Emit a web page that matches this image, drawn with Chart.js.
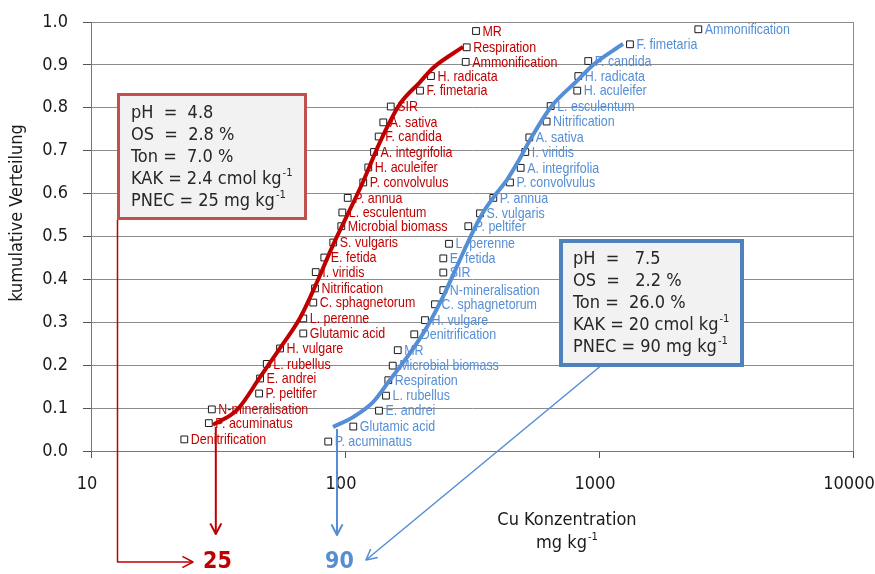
<!DOCTYPE html>
<html>
<head>
<meta charset="utf-8">
<script src="https://cdn.jsdelivr.net/npm/chart.js@4.4.1/dist/chart.umd.min.js"></script>
<style>
  html, body { margin: 0; padding: 0; background: #fff; }
  #wrap { width: 875px; height: 574px; }
</style>
</head>
<body>
<div id="wrap"><canvas id="cuChart" width="875" height="574"></canvas></div>
<script>
const xTicks = [10, 100, 1000, 10000];

// Boden 1 (pH 4.8) - red
const redNames = ['Denitrification', 'P. acuminatus', 'N-mineralisation', 'P. peltifer', 'E. andrei',
    'L. rubellus', 'H. vulgare', 'Glutamic acid', 'L. perenne', 'C. sphagnetorum', 'Nitrification',
    'I. viridis', 'E. fetida', 'S. vulgaris', 'Microbial biomass', 'L. esculentum', 'P. annua',
    'P. convolvulus', 'H. aculeifer', 'A. integrifolia', 'F. candida', 'A. sativa', 'SIR',
    'F. fimetaria', 'H. radicata', 'Ammonification', 'Respiration', 'MR'];
const redX = [23.3, 29.1, 29.9, 45.9, 46.3, 49.2, 55.5, 68.5, 68.5, 75.0, 76.2, 76.7, 82.9, 89.9,
    96.7, 97.6, 102.5, 118.0, 123.5, 130.1, 135.7, 141.5, 151.4, 197.4, 218.0, 298.7, 301.4, 327.9];
const redY = [0.027, 0.065, 0.097, 0.134, 0.169, 0.203, 0.239, 0.274, 0.309, 0.346, 0.379, 0.417,
    0.451, 0.486, 0.524, 0.556, 0.590, 0.626, 0.661, 0.697, 0.733, 0.766, 0.803, 0.840, 0.874,
    0.907, 0.941, 0.979];

// Boden 2 (pH 7.5) - blue
const blueNames = ['P. acuminatus', 'Glutamic acid', 'E. andrei', 'L. rubellus', 'Respiration',
    'Microbial biomass', 'MR', 'Denitrification', 'H. vulgare', 'C. sphagnetorum', 'N-mineralisation',
    'SIR', 'E. fetida', 'L. perenne', 'P. peltifer', 'S. vulgaris', 'P. annua', 'P. convolvulus',
    'A. integrifolia', 'I. viridis', 'A. sativa', 'Nitrification', 'L. esculentum', 'H. aculeifer',
    'H. radicata', 'F. candida', 'F. fimetaria', 'Ammonification'];
const blueX = [85.9, 107.8, 136.1, 145.0, 148.1, 154.1, 161.3, 187.4, 206.5, 226.1, 243.8, 243.8,
    243.8, 256.7, 305.8, 340.0, 383.7, 446.3, 491.6, 512.6, 531.7, 622.0, 645.0, 821.0, 829.0,
    907.0, 1324.0, 2460.0];
const blueY = [0.022, 0.057, 0.094, 0.129, 0.165, 0.199, 0.235, 0.272, 0.305, 0.342, 0.375, 0.416,
    0.449, 0.483, 0.524, 0.554, 0.590, 0.626, 0.660, 0.697, 0.731, 0.768, 0.804, 0.840, 0.874,
    0.909, 0.948, 0.983];

// fitted distributions
const redFitX = [30.2, 37.6, 46.3, 55.5, 66.5, 77.6, 89.7, 97.3, 117.7, 137.3, 164.6, 197.4, 222.0, 291.5];
const redFitY = [0.061, 0.096, 0.172, 0.240, 0.310, 0.394, 0.480, 0.524, 0.627, 0.720, 0.809, 0.860, 0.893, 0.942];
const blueFitX = [89.7, 107.5, 128.9, 150.4, 180.3, 210.3, 243.1, 278.6, 310.5, 346.2, 393.0, 434.3, 479.9, 535.0, 647.1, 826.8, 947.1, 1243.0];
const blueFitY = [0.056, 0.079, 0.114, 0.166, 0.228, 0.289, 0.359, 0.436, 0.497, 0.552, 0.599, 0.632, 0.674, 0.725, 0.802, 0.865, 0.900, 0.949];

// where the PNEC arrows leave the curves
const dropX = [31, 93];

const RED = '#C00000';
const BLUE = '#558ED5';

function hasFont(name) {
    const c = document.createElement('canvas').getContext('2d');
    const probe = 'abcdefghij KLMNOP 0123';
    c.font = '40px monospace';
    const base = c.measureText(probe).width;
    c.font = `40px "${name}", monospace`;
    return c.measureText(probe).width !== base;
}
const condensed = hasFont('DejaVu Sans Condensed');
const FAMILY = condensed ? '"DejaVu Sans Condensed"' : '"DejaVu Sans"';
const SIZE = condensed ? 18 : 16.3;
const LABEL_FONT = '15px "Liberation Sans", Arial';
const LABEL_SQUEEZE = 0.83;

function toPoints(xs, ys) {
    return xs.map((x, i) => ({ x: x, y: ys[i] }));
}

function textSup(ctx, str, sup, x, y) {
    ctx.fillText(str, x, y);
    const w = ctx.measureText(str).width;
    const f = ctx.font;
    ctx.font = `${SIZE * 0.62}px ${FAMILY}`;
    ctx.fillText(sup, x + w + 1, y - SIZE * 0.33);
    ctx.font = f;
}

function supWidth(ctx, str, sup) {
    const f = ctx.font;
    const w = ctx.measureText(str).width;
    ctx.font = `${SIZE * 0.62}px ${FAMILY}`;
    const w2 = ctx.measureText(sup).width;
    ctx.font = f;
    return w + 1 + w2;
}

function arrowLine(ctx, pts, color, width) {
    ctx.save();
    ctx.strokeStyle = color;
    ctx.lineWidth = width;
    ctx.lineJoin = 'round';
    ctx.beginPath();
    ctx.moveTo(pts[0][0], pts[0][1]);
    for (let i = 1; i < pts.length; i++) ctx.lineTo(pts[i][0], pts[i][1]);
    ctx.stroke();
    const [x1, y1] = pts[pts.length - 2];
    const [x2, y2] = pts[pts.length - 1];
    const a = Math.atan2(y2 - y1, x2 - x1);
    const len = 12, spread = 0.48;
    ctx.beginPath();
    ctx.moveTo(x2 - len * Math.cos(a - spread), y2 - len * Math.sin(a - spread));
    ctx.lineTo(x2, y2);
    ctx.lineTo(x2 - len * Math.cos(a + spread), y2 - len * Math.sin(a + spread));
    ctx.stroke();
    ctx.restore();
}

function infoBox(ctx, x, y, w, h, border, bw, lines, tx, ty) {
    ctx.save();
    ctx.fillStyle = '#F2F2F2';
    ctx.fillRect(x, y, w, h);
    ctx.strokeStyle = border;
    ctx.lineWidth = bw;
    ctx.strokeRect(x + bw / 2, y + bw / 2, w - bw, h - bw);
    ctx.fillStyle = '#262626';
    ctx.font = `${SIZE}px ${FAMILY}`;
    ctx.textBaseline = 'middle';
    ctx.textAlign = 'left';
    lines.forEach((l, i) => {
        if (l.sup) textSup(ctx, l.text, l.sup, tx, ty + i * 22);
        else ctx.fillText(l.text, tx, ty + i * 22);
    });
    ctx.restore();
}

// labels next to the squares, drawn before the fitted curves go on top
const pointLabels = {
    id: 'pointLabels',
    afterDatasetDraw(chart, args) {
        const ds = chart.data.datasets[args.index];
        if (!ds.names) return;
        const ctx = chart.ctx;
        ctx.save();
        ctx.font = LABEL_FONT;
        ctx.fillStyle = ds.labelColor;
        ctx.textBaseline = 'middle';
        ctx.textAlign = 'left';
        args.meta.data.forEach((pt, i) => {
            ctx.save();
            ctx.translate(pt.x + 6.5, pt.y + 0.5);
            ctx.scale(LABEL_SQUEEZE, 1);
            ctx.fillText(ds.names[i], 0, 0);
            ctx.restore();
        });
        ctx.restore();
    }
};

const frame = {
    id: 'frame',
    beforeDatasetsDraw(chart) {
        const { ctx, chartArea: a } = chart;
        ctx.save();
        ctx.strokeStyle = '#8c8c8c';
        ctx.lineWidth = 1;
        ctx.beginPath();
        ctx.moveTo(a.right + 0.5, a.top);
        ctx.lineTo(a.right + 0.5, a.bottom);
        ctx.stroke();
        ctx.restore();
    }
};

const annotations = {
    id: 'annotations',
    afterDraw(chart) {
        const ctx = chart.ctx;
        const xs = chart.scales.x, ys = chart.scales.y;

        // axis titles
        ctx.save();
        ctx.fillStyle = '#1a1a1a';
        ctx.font = `${SIZE}px ${FAMILY}`;
        ctx.textBaseline = 'middle';
        ctx.textAlign = 'center';
        ctx.fillText('Cu Konzentration', 567, 520);
        const w = supWidth(ctx, 'mg kg', '-1');
        ctx.textAlign = 'left';
        textSup(ctx, 'mg kg', '-1', 567 - w / 2, 543);
        ctx.translate(17, 213);
        ctx.rotate(-Math.PI / 2);
        ctx.textAlign = 'center';
        ctx.fillText('kumulative Verteilung', 0, 0);
        ctx.restore();

        // PNEC arrows
        const rx = xs.getPixelForValue(dropX[0]);
        const bx = xs.getPixelForValue(dropX[1]);
        arrowLine(ctx, [[rx, ys.getPixelForValue(redFitY[0]) + 2], [rx, 534]], RED, 2);
        arrowLine(ctx, [[bx, ys.getPixelForValue(blueFitY[0]) + 2], [bx, 535]], BLUE, 2);
        arrowLine(ctx, [[117.5, 220], [117.5, 562], [193, 562]], RED, 1.5);
        arrowLine(ctx, [[603, 364], [366, 560]], BLUE, 1.5);

        ctx.save();
        ctx.font = `bold ${condensed ? 23 : 21}px ${FAMILY}`;
        ctx.textBaseline = 'middle';
        ctx.textAlign = 'left';
        ctx.fillStyle = RED;
        ctx.fillText('25', 203, 562);
        ctx.fillStyle = BLUE;
        ctx.fillText('90', 325, 562);
        ctx.restore();

        infoBox(ctx, 117, 93, 190, 127, '#C0504D', 3, [
            { text: 'pH  =  4.8' },
            { text: 'OS  =  2.8 %' },
            { text: 'Ton =  7.0 %' },
            { text: 'KAK = 2.4 cmol kg', sup: '-1' },
            { text: 'PNEC = 25 mg kg', sup: '-1' }
        ], 131, 113);

        infoBox(ctx, 559, 239, 185, 128, '#4F81BD', 4, [
            { text: 'pH  =   7.5' },
            { text: 'OS  =   2.2 %' },
            { text: 'Ton =  26.0 %' },
            { text: 'KAK = 20 cmol kg', sup: '-1' },
            { text: 'PNEC = 90 mg kg', sup: '-1' }
        ], 573, 259.5);
    }
};

const pointStyle = {
    type: 'scatter',
    showLine: false,
    pointStyle: 'rect',
    pointRadius: 4.8,
    pointHoverRadius: 4.8,
    pointBackgroundColor: '#ffffff',
    pointBorderColor: '#1a1a1a',
    pointBorderWidth: 1,
    order: 2
};

const fitStyle = {
    type: 'scatter',
    showLine: true,
    pointRadius: 0,
    borderWidth: 4,
    cubicInterpolationMode: 'monotone',
    order: 1
};

new Chart(document.getElementById('cuChart'), {
    type: 'scatter',
    data: {
        datasets: [
            Object.assign({}, pointStyle, { data: toPoints(redX, redY), names: redNames, labelColor: RED }),
            Object.assign({}, pointStyle, { data: toPoints(blueX, blueY), names: blueNames, labelColor: BLUE }),
            Object.assign({}, fitStyle, { data: toPoints(redFitX, redFitY), borderColor: RED }),
            Object.assign({}, fitStyle, { data: toPoints(blueFitX, blueFitY), borderColor: BLUE })
        ]
    },
    options: {
        responsive: false,
        animation: false,
        layout: { padding: { top: 22, right: 22, left: 0, bottom: 0 } },
        plugins: {
            legend: { display: false },
            tooltip: { enabled: false }
        },
        scales: {
            x: {
                type: 'logarithmic',
                min: 10,
                max: 10000,
                afterBuildTicks: (s) => { s.ticks = xTicks.map(v => ({ value: v })); },
                afterFit: (s) => { s.height = 123; s.paddingLeft = 0; s.paddingRight = 0; },
                ticks: {
                    callback: (v) => String(v),
                    color: '#1a1a1a',
                    font: { family: FAMILY, size: SIZE },
                    padding: 16,
                    labelOffset: -4,
                    maxRotation: 0,
                    autoSkip: false
                },
                grid: { drawOnChartArea: false, drawTicks: true, tickLength: 7, tickColor: '#555' },
                border: { color: '#777', width: 1 }
            },
            y: {
                min: 0,
                max: 1,
                afterFit: (s) => { s.width = 91; s.paddingTop = 0; s.paddingBottom = 0; },
                ticks: {
                    stepSize: 0.1,
                    callback: (v) => v.toFixed(1),
                    color: '#1a1a1a',
                    font: { family: FAMILY, size: SIZE },
                    padding: 15
                },
                grid: { color: '#8c8c8c', lineWidth: 1, tickLength: 8, tickColor: '#555' },
                border: { color: '#777', width: 1 }
            }
        }
    },
    plugins: [pointLabels, frame, annotations]
});
</script>
</body>
</html>
